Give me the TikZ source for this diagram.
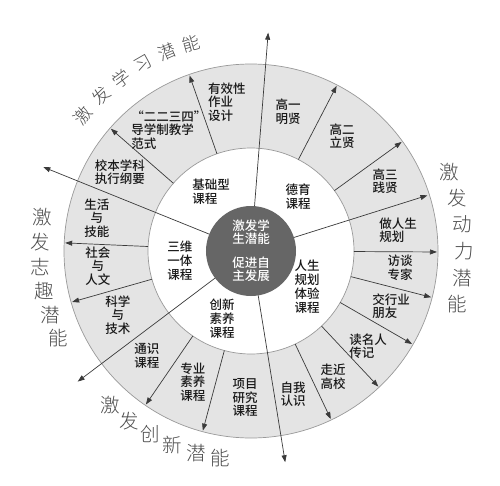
\documentclass[tikz,border=0pt]{standalone}
\usepackage{fontspec}
\setmainfont{Noto Sans CJK SC}
\newfontfamily\medfont{Noto Sans CJK SC}[UprightFont={* Medium}]
\newfontfamily\lightfont{Noto Sans CJK SC}[UprightFont={* Light}]
\usetikzlibrary{
    arrows.meta
}
\definecolor{ringgray}{HTML}{E4E4E4}
\definecolor{coregray}{HTML}{666666}
\definecolor{linegray}{HTML}{3A3A3A}
\tikzset{
    item/.style = {
        font=\medfont\fontsize{12.5}{13.5}\selectfont,
        align=left,
        inner sep=0pt,
        text=black!90
    },
    course/.style = {
        font=\medfont\fontsize{12.5}{14}\selectfont,
        align=left,
        inner sep=0pt,
        text=black!90
    },
    core/.style = {
        font=\medfont\fontsize{12.5}{13}\selectfont,
        align=center,
        inner sep=0pt,
        text=white
    },
    rim/.style = {
        font=\lightfont\fontsize{19.5}{19.5}\selectfont,
        inner sep=0pt,
        text=black!70
    },
    arrow/.style = {
        -{Triangle[length=7pt,width=5pt]},
        line width=0.7pt,
        linegray
    }
}

\begin{document}
\begin{tikzpicture}[x=1pt,y=1pt]
\useasboundingbox (-251,-234) rectangle (249,251);
% rings
\filldraw[fill=ringgray, draw=gray!80, line width=0.7pt] (0,0) circle (187);
\filldraw[fill=white, draw=gray!80, line width=0.7pt] (0,0) circle (103);
\fill[coregray] (0,0) circle (45);
% main spokes
\foreach \a/\r [count=\i] in {85.5/219, 17.5/185, 279.2/214, 217/217, 158/224} {
    \coordinate (ms\i) at (\a:45);
    \coordinate (me\i) at (\a:\r);
    \draw[arrow] (ms\i) -- (me\i);
}
% ring spokes
\foreach \a [count=\i] in {109.3, 138.9, 177.5, 195.9, 235.6, 255, 295.4, 313.2, 330, 345.6, 359.7, 62.6, 35.9} {
    \coordinate (ss\i) at (\a:103);
    \coordinate (se\i) at (\a:186);
    \draw[arrow] (ss\i) -- (se\i);
}
% centre
\node[core] (core) at (0,0) {激发学\\生潜能\\[11pt]促进自\\主发展};
% courses
\node[course] (jcx) at (-40,59) {基础型\\课程};
\node[course] (dyk) at (47,54) {德育\\课程};
\node[course] (rsgh) at (56,-36) {人生\\规划\\体验\\课程};
\node[course] (cxsy) at (-29,-68) {创新\\素养\\课程};
\node[course] (swyt) at (-71,-10) {三维\\一体\\课程};
% ring items
\node[item] (yxx) at (-24,149) {有效性\\作业\\设计};
\node[item] (dxz) at (-82,121) {“二二三四”\\导学制教学\\范式};
\node[item] (xbxk) at (-131,79) {校本学科\\执行纲要};
\node[item, align=center] (shjn) at (-154,33) {生活\\与\\技能};
\node[item, align=center] (shrw) at (-153,-15) {社会\\与\\人文};
\node[item, align=center] (kxjs) at (-133,-64) {科学\\与\\技术};
\node[item] (tskc) at (-104,-105) {通识\\课程};
\node[item] (zysy) at (-58,-131) {专业\\素养\\课程};
\node[item] (xmyj) at (-6,-147) {项目\\研究\\课程};
\node[item] (zwrs) at (42,-143) {自我\\认识};
\node[item] (zjgx) at (82,-126) {走近\\高校};
\node[item] (dmr) at (117,-95) {读名人\\传记};
\node[item] (jhy) at (140,-55) {交行业\\朋友};
\node[item] (ftzj) at (149,-17) {访谈\\专家};
\node[item] (zrs) at (147,21) {做人生\\规划};
\node[item] (gs) at (134,70) {高三\\践贤};
\node[item] (ge) at (91,115) {高二\\立贤};
\node[item] (gy) at (37,139) {高一\\明贤};
% outer labels
\foreach \c [count=\i] in {激,发,学,习,潜,能}
    \node[rim, font=\lightfont\fontsize{17.5}{17.5}\selectfont, rotate={51-(\i-1)*7}] (xx\i) at ({141-(\i-1)*7}:216) {\c};
\foreach \c [count=\i] in {激,发,志,趣,潜,能}
    \node[rim] (zq\i) at ({170.8+(\i-1)*6.7}:211) {\c};
\foreach \c [count=\i] in {激,发,创,新,潜,能}
    \node[rim] (cx\i) at ({227.5+(\i-1)*6.8}:209) {\c};
\foreach \c [count=\i] in {激,发,动,力,潜,能}
    \node[rim] (dl\i) at ({21.6-(\i-1)*7.2}:213) {\c};
\end{tikzpicture}
\end{document}
